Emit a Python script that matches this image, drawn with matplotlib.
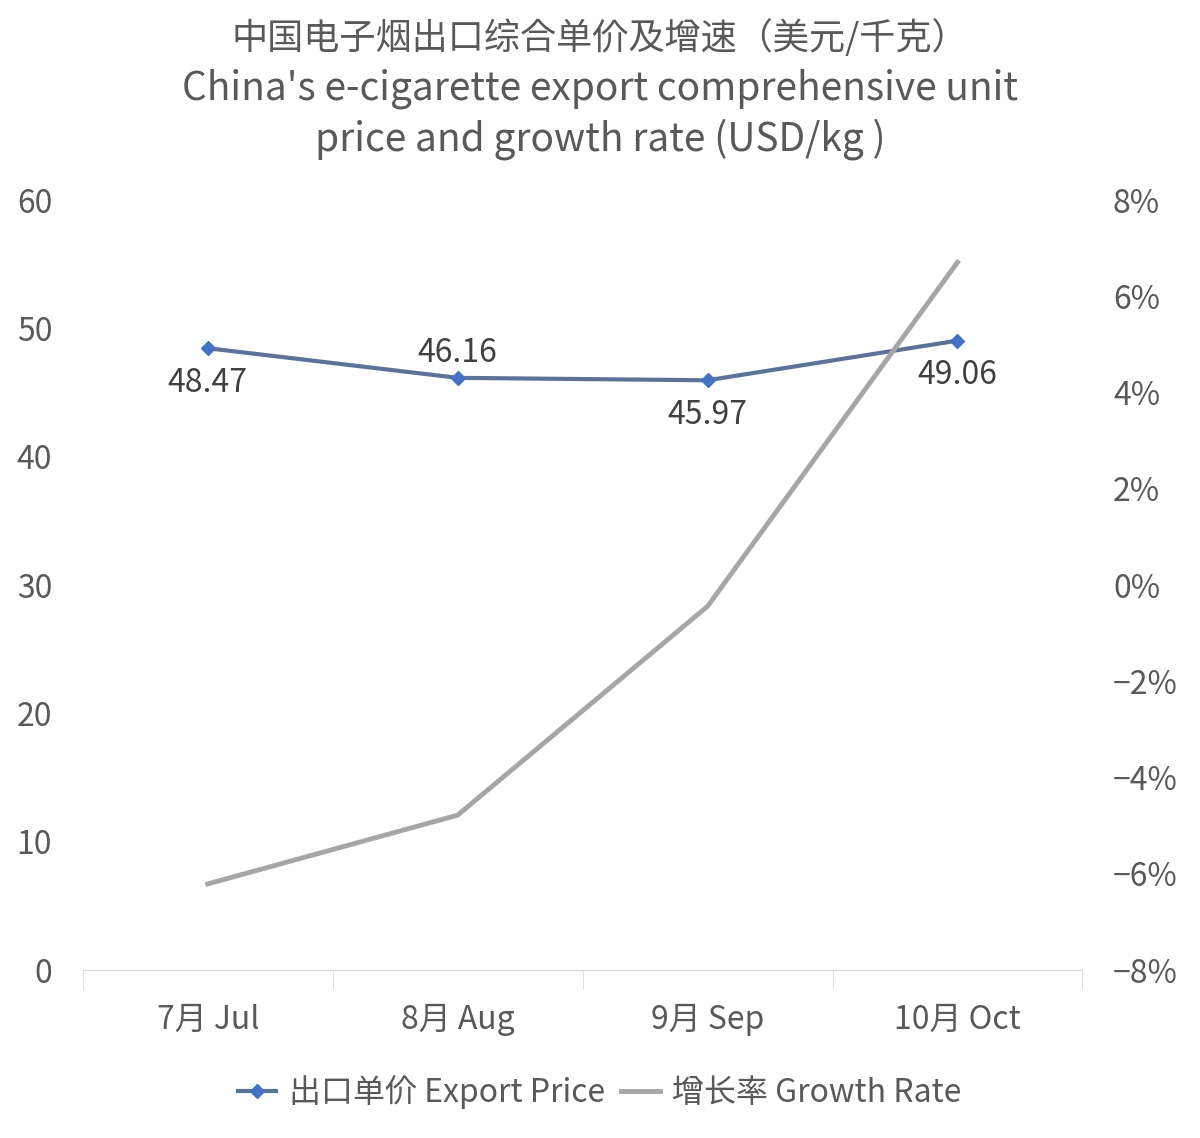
import matplotlib
matplotlib.use("Agg")
import matplotlib.pyplot as plt
from matplotlib.ticker import FuncFormatter
from matplotlib.lines import Line2D

plt.rcParams['font.family'] = ['Noto Sans CJK SC', 'Noto Sans CJK JP', 'Noto Sans CJK TC', 'DejaVu Sans']

categories = ["7月 Jul", "8月 Aug", "9月 Sep", "10月 Oct"]
export_price = [48.47, 46.16, 45.97, 49.06]
growth_rate = [-6.21, -4.78, -0.44, 6.71]
label_pos = ["below", "above", "below", "below"]

fig = plt.figure(figsize=(12, 11.38), dpi=100)
ax = fig.add_axes([0.069, 0.1476, 0.833, 0.6764])
ax2 = ax.twinx()
x = list(range(len(categories)))
txtc = "#595959"

ax.plot(x, export_price, color="#5b7396", lw=3, marker="D", ms=7, mfc="#4472c4", mec="#4472c4", zorder=5)
ax2.plot(x, growth_rate, color="#a6a6a6", lw=3.5)
for xi, v, p in zip(x, export_price, label_pos):
    dy = -2.7 if p == "below" else 1.9
    ax.text(xi, v + dy, f"{v:.2f}", ha="center", va="center", fontsize=23, color="#404040", zorder=6)

ax.set_ylim(0, 60)
ax.set_yticks(range(0, 61, 10))
ax2.set_ylim(-8, 8)
ax2.set_yticks(range(-8, 9, 2))
ax2.yaxis.set_major_formatter(FuncFormatter(lambda v, _: f"{int(v)}%".replace("-", "−")))
ax.set_xlim(-0.5, 3.5)
ax.set_xticks(x)
ax.set_xticklabels(categories)
ax.set_xticks([-0.5, 0.5, 1.5, 2.5, 3.5], minor=True)
ax.tick_params(axis="x", which="major", length=0, pad=24, labelsize=23, labelcolor=txtc)
ax.tick_params(axis="x", which="minor", length=14, color="#d9d9d9", direction="out")
ax.tick_params(axis="y", length=0, labelsize=23, labelcolor=txtc, pad=22)
ax2.tick_params(axis="y", length=0, labelsize=23, labelcolor=txtc, pad=22)
for a in (ax, ax2):
    for s in ["top", "left", "right"]:
        a.spines[s].set_visible(False)
ax.spines["bottom"].set_color("#d9d9d9")
ax2.spines["bottom"].set_visible(False)

fig.text(0.5, 0.967, "中国电子烟出口综合单价及增速（美元/千克）", ha="center", va="center", fontsize=26, color=txtc)
fig.text(0.5, 0.922, "China's e-cigarette export comprehensive unit", ha="center", va="center", fontsize=28, color=txtc)
fig.text(0.5, 0.878, "price and growth rate (USD/kg )", ha="center", va="center", fontsize=28, color=txtc)

handles = [Line2D([], [], color="#5b7396", lw=3, marker="D", ms=7, mfc="#4472c4", mec="#4472c4"),
           Line2D([], [], color="#a6a6a6", lw=3.5)]
fig.legend(handles, ["出口单价 Export Price", "增长率 Growth Rate"], loc="center", bbox_to_anchor=(0.5, 0.04),
           ncol=2, frameon=False, fontsize=23, labelcolor=txtc, handlelength=1.2, columnspacing=0.5, handletextpad=0.4)

fig.savefig("out.png", dpi=100)
